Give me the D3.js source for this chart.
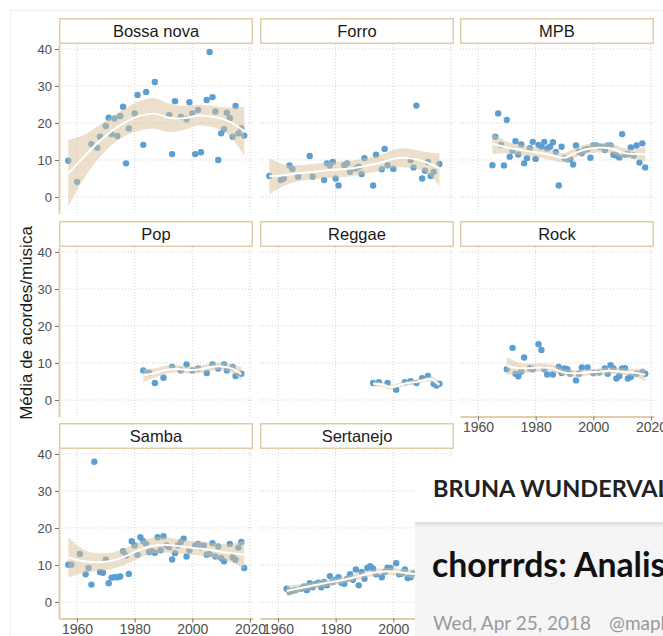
<!DOCTYPE html>
<html>
<head>
<meta charset="utf-8">
<script src="https://cdn.jsdelivr.net/npm/d3@7"></script>
<style>
  body { margin: 0; background: #fff; }
  svg { display: block; }
</style>
</head>
<body>
<svg id="chart" width="663" height="636"></svg>
<script>
var svg = d3.select("svg#chart"),
    width = +svg.attr("width"),
    height = +svg.attr("height");

// facet names, in ggplot order
var genres = ["Bossa nova", "Forro", "MPB", "Pop", "Reggae", "Rock", "Samba", "Sertanejo"];
var xTicks = [1960, 1980, 2000, 2020];
var yTicks = [0, 10, 20, 30, 40];

// [year, mean chords per song]
var bossaNova = [[1957,9.8],[1960,4.1],[1965,14.3],[1967,13.3],[1968,16.3],[1970,19.2],[1971,21.4],[1972,17.0],
  [1973,21.2],[1974,16.5],[1975,21.9],[1976,24.4],[1977,9.1],[1978,18.5],[1980,22.6],[1981,27.6],[1983,14.1],
  [1984,28.4],[1987,31.1],[1992,22.2],[1993,11.6],[1994,25.9],[1996,21.7],[1998,21.0],[1999,25.6],[2000,22.6],
  [2001,11.6],[2002,23.5],[2003,12.1],[2005,26.2],[2006,39.2],[2007,27.0],[2008,23.1],[2009,10.0],[2010,17.2],
  [2011,18.3],[2012,22.8],[2013,21.3],[2014,16.3],[2015,24.6],[2016,17.2],[2017,18.6],[2018,16.6]];
var forro = [[1957,5.7],[1961,4.6],[1962,5.0],[1964,8.5],[1965,7.6],[1967,5.5],[1971,11.1],[1972,5.5],[1976,4.6],
  [1977,9.1],[1978,8.5],[1979,9.5],[1980,5.0],[1981,3.1],[1983,8.6],[1984,9.1],[1985,6.8],[1987,7.7],[1988,8.2],
  [1989,6.2],[1990,10.5],[1993,3.1],[1994,11.4],[1996,7.5],[1997,13.0],[1998,8.6],[2000,7.6],[2006,10.0],
  [2007,8.0],[2008,24.7],[2010,5.0],[2011,7.1],[2012,9.5],[2013,5.7],[2014,6.8],[2016,8.9]];
var mpb = [[1965,8.6],[1966,16.3],[1967,22.6],[1968,14.1],[1969,8.5],[1970,20.8],[1971,10.9],[1972,12.5],
  [1973,15.1],[1974,11.5],[1975,14.2],[1976,9.1],[1977,10.5],[1978,13.2],[1979,14.9],[1980,10.3],[1981,14.1],
  [1982,13.6],[1983,14.9],[1984,13.1],[1985,13.6],[1986,14.8],[1987,12.2],[1988,3.1],[1989,13.6],[1990,10.5],
  [1991,10.2],[1992,10.2],[1993,8.8],[1994,13.9],[1995,12.2],[1996,11.8],[1997,12.7],[1998,13.0],[1999,10.6],
  [2000,13.9],[2001,13.9],[2002,13.6],[2003,13.6],[2004,12.7],[2005,13.9],[2006,13.9],[2007,11.4],[2008,11.2],
  [2009,10.7],[2010,17.0],[2011,11.4],[2012,11.6],[2013,13.4],[2014,11.2],[2015,13.9],[2016,9.3],[2017,14.5],
  [2018,8.0]];
var pop = [[1983,8.0],[1985,7.4],[1987,4.6],[1990,6.0],[1993,8.9],[1996,8.0],[1998,9.6],[2000,8.0],[2002,8.5],
  [2005,7.3],[2007,9.6],[2009,8.5],[2011,9.6],[2012,8.0],[2014,8.9],[2015,6.5],[2017,7.1]];
var reggae = [[1993,4.6],[1995,4.8],[1998,4.6],[2001,2.8],[2004,4.8],[2006,5.1],[2008,4.6],[2010,5.9],
  [2012,6.5],[2014,4.4],[2015,3.9],[2016,4.4]];
var rock = [[1970,8.3],[1972,14.1],[1973,7.1],[1974,6.4],[1975,7.7],[1976,11.5],[1978,8.6],[1979,8.3],
  [1981,15.1],[1982,13.5],[1983,8.3],[1984,6.9],[1986,6.9],[1988,8.9],[1989,7.3],[1990,8.5],[1991,8.3],
  [1992,7.1],[1994,5.3],[1995,7.1],[1996,8.8],[1998,8.8],[2000,7.3],[2002,7.4],[2004,8.5],[2005,7.1],
  [2006,9.4],[2007,8.5],[2008,5.8],[2009,6.5],[2010,8.5],[2011,8.6],[2012,5.8],[2013,6.2],[2015,7.1],
  [2017,7.6],[2018,7.1]];
var samba = [[1957,10.1],[1958,10.1],[1961,13.0],[1963,7.5],[1964,9.2],[1965,4.7],[1966,37.9],[1968,8.1],
  [1969,7.9],[1970,11.4],[1971,5.1],[1972,6.6],[1973,6.7],[1974,6.7],[1975,6.9],[1976,13.7],[1977,12.6],
  [1978,7.6],[1979,16.4],[1980,15.3],[1981,12.8],[1982,17.5],[1983,16.4],[1984,15.7],[1985,13.5],[1986,13.7],
  [1987,13.3],[1988,17.5],[1989,14.0],[1990,17.8],[1991,15.3],[1992,14.8],[1993,11.5],[1994,13.2],[1995,15.3],
  [1996,16.2],[1997,17.1],[1998,12.3],[1999,14.0],[2001,15.3],[2002,15.7],[2003,14.8],[2004,15.3],[2005,12.8],
  [2006,13.0],[2007,15.9],[2008,12.3],[2009,15.0],[2010,11.9],[2011,11.0],[2013,15.7],[2014,12.1],[2015,11.4],
  [2016,14.7],[2017,16.2],[2018,9.2]];
var sertanejo = [[1963,3.6],[1964,2.7],[1965,3.0],[1966,3.2],[1968,3.6],[1969,4.2],[1970,3.2],[1971,5.1],
  [1972,4.0],[1973,4.9],[1974,5.2],[1975,4.0],[1976,5.4],[1977,4.5],[1978,7.0],[1979,5.4],[1980,6.0],
  [1981,6.7],[1982,5.2],[1983,4.9],[1984,6.3],[1985,7.5],[1986,6.0],[1987,8.8],[1988,4.5],[1989,8.1],
  [1990,6.3],[1991,9.2],[1992,9.7],[1993,9.0],[1994,7.5],[1996,6.7],[1997,8.1],[1998,9.3],[1999,9.2],
  [2001,10.5],[2002,7.5],[2003,7.7],[2004,8.8],[2005,6.5],[2006,6.7],[2007,7.7]];

// loess fit: [year, fit, lower, upper]
var bossaNovaFit = [[1957,6.4,-2.6,15.4],[1962,10.5,4.5,16.6],[1967,14.5,10.0,19.0],[1972,17.8,14.0,21.6],
  [1977,20.3,16.6,24.0],[1982,22.0,18.0,26.0],[1987,22.5,18.4,26.7],[1992,21.4,17.5,25.2],[1997,21.3,18.1,24.6],
  [2002,22.0,19.3,24.9],[2007,21.7,18.9,24.6],[2012,20.7,17.2,24.2],[2018,17.8,11.2,24.4]];
var forroFit = [[1957,5.6,0.8,10.4],[1962,5.9,3.0,8.8],[1967,6.4,4.2,8.6],[1972,6.8,4.7,8.9],[1978,7.3,5.2,9.4],
  [1984,7.6,5.5,9.7],[1989,8.2,6.1,10.3],[1995,9.1,7.0,11.2],[2000,10.3,7.9,12.7],[2004,10.6,8.0,13.2],
  [2008,10.2,7.7,12.7],[2012,9.2,6.3,12.1],[2016,7.8,3.0,11.8]];
var mpbFit = [[1965,14.4,11.6,17.2],[1970,13.4,11.8,15.0],[1975,12.7,11.3,14.1],[1980,12.1,10.8,13.4],
  [1985,11.4,10.1,12.7],[1990,10.6,9.3,11.9],[1994,12.0,10.7,13.3],[1998,13.0,11.7,14.3],[2002,13.3,12.0,14.6],
  [2006,13.2,11.9,14.5],[2010,12.0,10.7,13.3],[2014,11.6,10.3,12.9],[2018,11.6,9.7,13.5]];
var popFit = [[1983,6.6,4.8,8.4],[1987,7.3,6.1,8.5],[1991,8.2,7.1,9.3],[1995,8.4,7.4,9.4],[1999,8.1,7.1,9.1],
  [2003,8.3,7.3,9.3],[2007,9.0,8.0,10.0],[2011,9.0,8.0,10.0],[2014,8.4,7.3,9.5],[2017,7.0,5.2,8.8]];
var reggaeFit = [[1993,4.4,3.6,5.2],[1996,4.2,3.6,4.8],[1999,3.5,2.9,4.1],[2002,4.0,3.4,4.6],[2005,4.6,4.0,5.2],
  [2008,4.9,4.3,5.5],[2011,5.5,4.9,6.1],[2013,5.7,5.0,6.4],[2016,4.1,3.2,5.0]];
var rockFit = [[1970,9.2,6.8,11.6],[1974,8.6,7.1,10.1],[1978,8.6,7.4,9.8],[1982,8.8,7.7,9.9],[1986,8.5,7.5,9.5],
  [1990,7.4,6.5,8.3],[1994,7.2,6.3,8.1],[1998,7.5,6.6,8.4],[2002,7.6,6.7,8.5],[2006,7.9,7.0,8.8],
  [2010,7.7,6.8,8.6],[2014,7.4,6.4,8.4],[2018,6.8,5.1,8.5]];
var sambaFit = [[1957,12.1,6.7,17.5],[1961,11.2,7.6,14.8],[1965,10.8,8.2,13.4],[1970,10.9,8.6,13.2],
  [1975,11.8,9.6,14.0],[1980,13.5,11.3,15.7],[1985,15.0,12.9,17.1],[1990,15.5,13.4,17.6],[1995,15.1,13.2,17.0],
  [2000,14.6,12.8,16.4],[2005,14.2,12.3,16.1],[2010,13.6,11.5,15.7],[2014,13.2,10.7,15.7],[2018,12.8,8.9,16.7]];
var sertanejoFit = [[1963,3.0,1.6,4.4],[1968,3.8,2.8,4.8],[1973,4.6,3.7,5.5],[1978,5.3,4.4,6.2],
  [1983,6.0,5.1,6.9],[1988,7.0,6.1,7.9],[1993,7.9,7.0,8.8],[1998,8.3,7.4,9.2],[2003,8.0,7.0,9.0],
  [2008,7.5,6.2,8.8]];

var points = [bossaNova, forro, mpb, pop, reggae, rock, samba, sertanejo];
var fits = [bossaNovaFit, forroFit, mpbFit, popFit, reggaeFit, rockFit, sambaFit, sertanejoFit];

var tan = "#e3cca8",
    dotColor = "#5b9fd2",
    ribbonColor = "#d9bf98",
    gridColor = "#d2d2d2";

var colLeft = [59, 260, 460],
    rowTop = [44, 247, 449],
    panelW = 194,
    panelH = 169.5,
    stripH = 26;

var x = d3.scaleLinear().domain([1953.76, 2021.05]).range([0, panelW]);
var y = d3.scaleLinear().domain([-4.46, 41.35]).range([panelH, 0]);

var area = d3.area()
    .x(function(d) { return x(d[0]); })
    .y0(function(d) { return y(d[2]); })
    .y1(function(d) { return y(d[3]); })
    .curve(d3.curveCatmullRom);
var line = d3.line()
    .x(function(d) { return x(d[0]); })
    .y(function(d) { return y(d[1]); })
    .curve(d3.curveCatmullRom);

// faint frame of the screenshot
svg.append("rect")
    .attr("x", 10.5).attr("y", 10.5)
    .attr("width", width).attr("height", height)
    .attr("fill", "none").attr("stroke", "#ededed");

// last panel in each column gets the x axis
var bottomOf = { 0: 6, 1: 7, 2: 5 };

genres.forEach(function(name, i) {
  var row = Math.floor(i / 3), col = i % 3;
  var g = svg.append("g")
      .attr("transform", "translate(" + colLeft[col] + "," + rowTop[row] + ")");

  // grid
  g.append("g").selectAll("line.gx").data(xTicks).enter().append("line")
      .attr("x1", function(d) { return x(d); }).attr("x2", function(d) { return x(d); })
      .attr("y1", 0).attr("y2", panelH)
      .attr("stroke", gridColor).attr("stroke-dasharray", "1,2");
  g.append("g").selectAll("line.gy").data(yTicks).enter().append("line")
      .attr("x1", 0).attr("x2", panelW)
      .attr("y1", function(d) { return y(d); }).attr("y2", function(d) { return y(d); })
      .attr("stroke", gridColor).attr("stroke-dasharray", "1,2");

  // points, then smoother on top
  g.append("g").selectAll("circle").data(points[i]).enter().append("circle")
      .attr("cx", function(d) { return x(d[0]); })
      .attr("cy", function(d) { return y(d[1]); })
      .attr("r", 3.2)
      .attr("fill", dotColor);

  g.append("path").datum(fits[i])
      .attr("d", area)
      .attr("fill", ribbonColor).attr("fill-opacity", 0.5);
  g.append("path").datum(fits[i])
      .attr("d", line)
      .attr("fill", "none").attr("stroke", "#fff").attr("stroke-width", 2);

  // strip
  g.append("rect")
      .attr("x", 0.75).attr("y", -stripH + 0.75)
      .attr("width", panelW - 1.5).attr("height", stripH - 1.5)
      .attr("fill", "#fff").attr("stroke", tan).attr("stroke-width", 1.5);
  g.append("text")
      .attr("x", panelW / 2).attr("y", -stripH / 2 + 6)
      .attr("text-anchor", "middle")
      .attr("font-family", "Liberation Sans, Arial, sans-serif")
      .attr("font-size", 16.5)
      .attr("fill", "#1a1a1a")
      .text(name);

  if (col === 0) {
    var ay = g.append("g")
        .call(d3.axisLeft(y).tickValues(yTicks).tickSize(4).tickSizeOuter(0).tickPadding(3));
    styleAxis(ay, 13);
  }
  if (bottomOf[col] === i) {
    var ax = g.append("g")
        .attr("transform", "translate(0," + panelH + ")")
        .call(d3.axisBottom(x).tickValues(xTicks).tickFormat(d3.format("d"))
              .tickSize(4).tickSizeOuter(0).tickPadding(2));
    styleAxis(ax, 14);
  }
});

function styleAxis(a, size) {
  a.select(".domain").attr("stroke", tan).attr("stroke-width", 2);
  a.selectAll(".tick line").attr("stroke", "#777");
  a.selectAll(".tick text")
      .attr("fill", "#4d4d4d")
      .attr("font-family", "Liberation Sans, Arial, sans-serif")
      .attr("font-size", size);
}

svg.append("text")
    .attr("transform", "translate(32,323) rotate(-90)")
    .attr("text-anchor", "middle")
    .attr("font-family", "Liberation Sans, Arial, sans-serif")
    .attr("font-size", 17)
    .attr("fill", "#1a1a1a")
    .text("Média de acordes/música");

// blog page laid over the lower right corner
var blog = svg.append("g");
blog.append("rect")
    .attr("x", 415).attr("y", 458).attr("width", 260).attr("height", 200)
    .attr("fill", "#fff");
var shade = svg.append("defs").append("linearGradient")
    .attr("id", "shade").attr("x1", 0).attr("y1", 0).attr("x2", 0).attr("y2", 1);
shade.append("stop").attr("offset", 0).attr("stop-color", "#dcdcdc");
shade.append("stop").attr("offset", 1).attr("stop-color", "#f5f5f5");
blog.append("rect")
    .attr("x", 415).attr("y", 522).attr("width", 260).attr("height", 120)
    .attr("fill", "#f5f5f5");
blog.append("rect")
    .attr("x", 415).attr("y", 522).attr("width", 260).attr("height", 6)
    .attr("fill", "url(#shade)");
blog.append("text")
    .attr("x", 433).attr("y", 497)
    .attr("font-family", "Lato, sans-serif").attr("font-weight", 700)
    .attr("font-size", 23.5).attr("fill", "#222")
    .text("BRUNA WUNDERVALD");
blog.append("text")
    .attr("x", 432).attr("y", 577)
    .attr("font-family", "Lato, sans-serif").attr("font-weight", 700)
    .attr("font-size", 33.8).attr("fill", "#111")
    .text("chorrrds: Analisando acordes");
blog.append("text")
    .attr("x", 433).attr("y", 630)
    .attr("font-family", "Lato, sans-serif")
    .attr("font-size", 19).attr("fill", "#9a9a9a")
    .text("Wed, Apr 25, 2018");
blog.append("text")
    .attr("x", 609).attr("y", 630)
    .attr("font-family", "Lato, sans-serif")
    .attr("font-size", 19).attr("fill", "#9a9a9a")
    .text("@mapbruna");
</script>
</body>
</html>
